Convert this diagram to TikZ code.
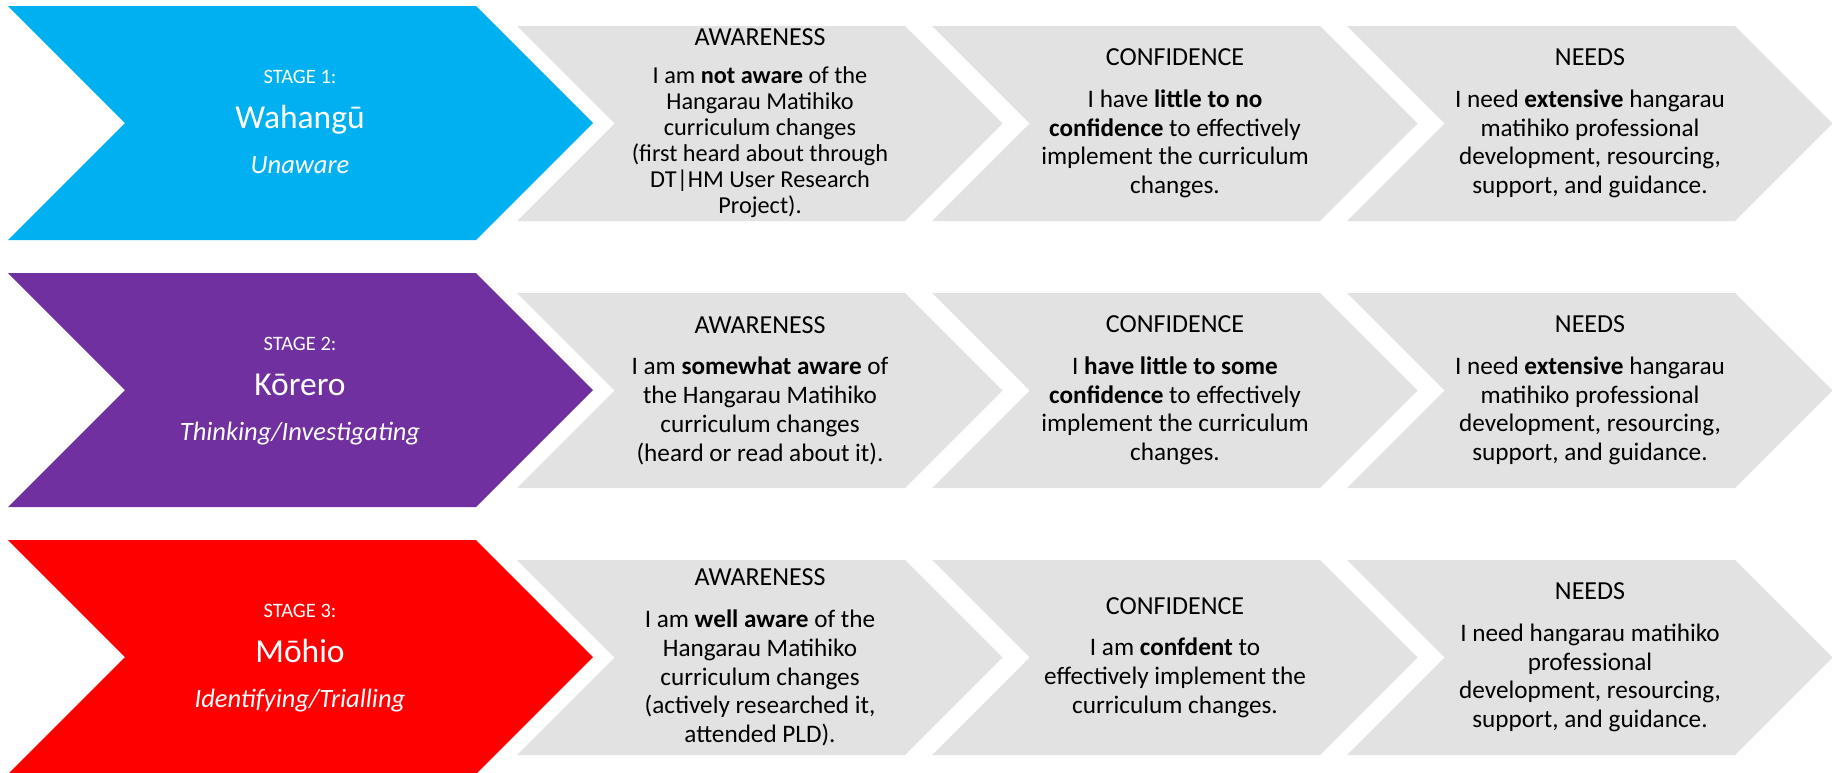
\documentclass[tikz,border=0pt]{standalone}
\usepackage{fontspec}
\setmainfont{Carlito}

\definecolor{stageblue}{HTML}{00B0F0}
\definecolor{stagepurple}{HTML}{7030A0}
\definecolor{stagered}{HTML}{FF0000}
\definecolor{chevgray}{HTML}{E2E2E2}

% one chevron: left x, top y, length of the flat top edge, half height, colour
\newcommand\stagechevron[5]{%
  \fill[#5] (#1,#2) -- ++(#3,0) -- ++(#4,#4) -- ++(-#4,#4) -- ++(-#3,0)
    -- ++(#4,-#4) -- cycle;}

% heading line of a grey chevron
\newcommand\boxhead[1]{{\fontsize{26}{28.7}\selectfont #1}}

\tikzset{
  bodytext/.style={align=center, inner sep=0pt, text=black,
    font=\fontsize{25.2}{28.7}\selectfont},
  tighttext/.style={bodytext, font=\fontsize{24.3}{26}\selectfont},
  stagelabel/.style={anchor=base, inner sep=0pt, text=white,
    font=\fontsize{20.5}{24}\selectfont},
  stagename/.style={anchor=base, inner sep=0pt, text=white,
    font=\fontsize{33.5}{40}\selectfont},
  stagesub/.style={anchor=base, inner sep=0pt, text=white,
    font=\fontsize{26.5}{30}\selectfont\itshape},
}

\begin{document}
\begin{tikzpicture}[x=1pt, y=-1pt]
  \useasboundingbox (0,0) rectangle (1838,772);
  \clip (0,0) rectangle (1838,772);

  % chevrons of the three stages
  \foreach \r/\c in {0/stageblue, 267/stagepurple, 534/stagered}{
    \stagechevron{8}{\r+6}{468}{117}{\c}
    \foreach \l in {517, 932, 1347}{
      \stagechevron{\l}{\r+26}{388}{97.5}{chevgray}
    }
  }

  % stage 1
  \node[stagelabel] (s1lab) at (300,83) {STAGE 1:};
  \node[stagename]  (s1name) at (300,128) {Wahangū};
  \node[stagesub]   (s1sub) at (300,173) {Unaware};
  \node[tighttext] (s1aw) at (760,123.5) {\boxhead{AWARENESS}\\[12pt]
    I am \textbf{not aware} of the\\ Hangarau Matihiko\\ curriculum changes\\
    (first heard about through\\ DT|HM User Research\\ Project).};
  \node[bodytext] (s1conf) at (1175,123.5) {\boxhead{CONFIDENCE}\\[13pt]
    I have \textbf{little to no}\\ \textbf{confidence} to effectively\\
    implement the curriculum\\ changes.};
  \node[bodytext] (s1need) at (1590,123.5) {\boxhead{NEEDS}\\[13pt]
    I need \textbf{extensive} hangarau\\ matihiko professional\\
    development, resourcing,\\ support, and guidance.};

  % stage 2
  \node[stagelabel] (s2lab) at (300,350) {STAGE 2:};
  \node[stagename]  (s2name) at (300,395) {Kōrero};
  \node[stagesub]   (s2sub) at (300,440) {Thinking/Investigating};
  \node[bodytext] (s2aw) at (760,390.5) {\boxhead{AWARENESS}\\[13pt]
    I am \textbf{somewhat aware} of\\ the Hangarau Matihiko\\
    curriculum changes\\ (heard or read about it).};
  \node[bodytext] (s2conf) at (1175,390.5) {\boxhead{CONFIDENCE}\\[13pt]
    I \textbf{have little to some}\\ \textbf{confidence} to effectively\\
    implement the curriculum\\ changes.};
  \node[bodytext] (s2need) at (1590,390.5) {\boxhead{NEEDS}\\[13pt]
    I need \textbf{extensive} hangarau\\ matihiko professional\\
    development, resourcing,\\ support, and guidance.};

  % stage 3
  \node[stagelabel] (s3lab) at (300,617) {STAGE 3:};
  \node[stagename]  (s3name) at (300,662) {Mōhio};
  \node[stagesub]   (s3sub) at (300,707) {Identifying/Trialling};
  \node[bodytext] (s3aw) at (760,657.5) {\boxhead{AWARENESS}\\[13pt]
    I am \textbf{well aware} of the\\ Hangarau Matihiko\\ curriculum changes\\
    (actively researched it,\\ attended PLD).};
  \node[bodytext] (s3conf) at (1175,657.5) {\boxhead{CONFIDENCE}\\[13pt]
    I am \textbf{confdent} to\\ effectively implement the\\
    curriculum changes.};
  \node[bodytext] (s3need) at (1590,657.5) {\boxhead{NEEDS}\\[13pt]
    I need hangarau matihiko\\ professional\\
    development, resourcing,\\ support, and guidance.};
\end{tikzpicture}
\end{document}
